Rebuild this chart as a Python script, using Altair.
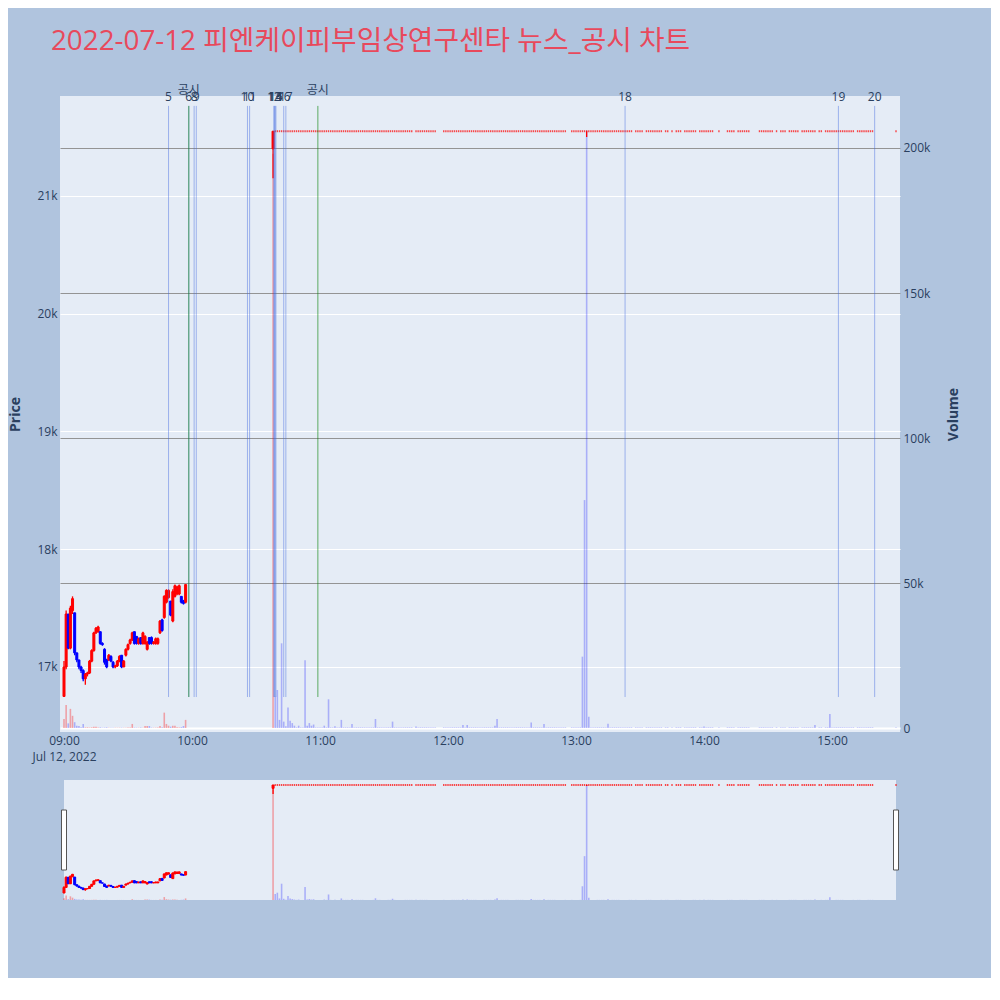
import altair as alt
import pandas as pd

DAY = "2022-07-12"
TITLE = "2022-07-12 피엔케이피부임상연구센타 뉴스_공시 차트"

# ---- first hour: 1-minute candles from 09:00 ----
early_open = [16750,17000,17450,17160,17480,17460,17120,17060,17000,16970,
              16900,16940,16950,17050,17140,17290,17300,17300,17200,17150,
              17060,17060,17090,17040,17000,17010,17050,17100,17000,17100,
              17150,17200,17230,17300,17260,17200,17250,17200,17200,17150,
              17250,17250,17200,17200,17200,17290,17400,17420,17550,17590,
              17560,17390,17600,17620,17620,17600,17560,17550]
early_high = [17050,17480,17450,17520,17600,17460,17120,17060,17010,16980,
              16950,16960,17060,17150,17300,17340,17350,17300,17210,17160,
              17070,17110,17100,17050,17020,17060,17100,17100,17060,17160,
              17200,17240,17300,17300,17260,17250,17250,17300,17270,17220,
              17250,17260,17220,17250,17250,17400,17410,17610,17660,17660,
              17560,17660,17700,17690,17700,17600,17570,17700]
early_low = [16750,16980,17150,17150,17450,17100,17040,16980,16950,16880,
             16850,16920,16940,17040,17130,17280,17290,17190,17180,17020,
             16990,17050,17040,16990,16990,17000,17040,16990,17000,17090,
             17140,17190,17220,17190,17190,17190,17190,17190,17190,17140,
             17190,17190,17190,17190,17190,17280,17300,17410,17540,17580,
             17430,17380,17590,17610,17610,17540,17530,17540]
early_close = [17000,17450,17160,17500,17580,17120,17060,17000,16970,16900,
               16940,16950,17050,17140,17290,17330,17340,17200,17190,17040,
               17000,17100,17050,17000,17010,17050,17090,17000,17050,17150,
               17190,17230,17290,17200,17200,17240,17200,17290,17260,17210,
               17200,17200,17210,17240,17240,17390,17310,17600,17650,17650,
               17440,17640,17690,17680,17690,17550,17540,17700]
early_vol = [3100,7900,1600,6600,4200,2000,800,700,300,1400,
             200,230,150,230,400,460,150,230,100,150,
             230,100,80,120,60,80,100,120,80,100,
             150,200,1400,150,120,100,150,100,700,700,
             700,150,100,120,200,700,300,5300,1400,800,
             460,800,800,300,200,300,700,2800]

# ---- 10:38 jump to the upper limit ----
spike_time = "10:38"
spike_ohlc = (21400, 21550, 21150, 21550)
spike_vol = 198000

# ---- upper-limit trading (price stuck at 21,550) ----
limit_price = 21550
limit_segments = [("10:39","11:43"),("11:45","11:54"),("11:58","12:55"),("12:58","12:59"),
                  ("13:00","13:26"),("13:28","13:31"),("13:33","13:37"),("13:38","13:40"),
                  ("13:42","13:43"),("13:45","13:45"),("13:47","13:49"),("13:51","13:56"),
                  ("13:58","13:59"),("14:00","14:04"),("14:07","14:07"),("14:11","14:14"),
                  ("14:16","14:17"),("14:18","14:21"),("14:26","14:32"),("14:34","14:34"),
                  ("14:36","14:38"),("14:40","14:44"),("14:46","14:48"),("14:49","14:52"),
                  ("14:54","14:55"),("14:57","15:10"),("15:12","15:19"),("15:30","15:30")]
limit_low_special = {"13:05": 21500}
limit_volumes = {"10:39":10800,"10:40":13100,"10:41":2800,"10:42":29200,"10:43":2200,
                 "10:44":600,"10:45":7100,"10:46":2500,"10:47":1700,"10:48":800,
                 "10:50":800,"10:53":23400,"10:54":800,"10:55":1700,"10:56":800,
                 "10:57":1200,"11:02":800,"11:04":9900,"11:07":600,"11:10":2800,
                 "11:15":1400,"11:26":3100,"11:34":2200,"11:45":500,"12:07":1000,
                 "12:09":1000,"12:22":800,"12:23":3100,"12:39":1900,"12:45":1400,
                 "13:03":24600,"13:04":78600,"13:05":206000,"13:06":3900,"13:15":1500,
                 "14:00":500,"14:52":1000,"14:59":4800}
limit_default_vol = 200

# ---- news / disclosure markers ----
news_labels = ["5","6","8","9","10","11","12","13","14","15","16","17","18","19","20"]
news_times = ["09:49:00","09:58:30","10:01:00","10:02:00","10:26:00","10:27:00",
              "10:38:20","10:38:40","10:39:00","10:39:20","10:43:00","10:44:00",
              "13:23:00","15:03:00","15:20:00"]
disc_labels = ["공시","공시"]
disc_times = ["09:58:30","10:59:00"]

RED, BLUE = "#FF0000", "#0000FF"
VRED, VBLUE = "rgba(255,0,0,0.32)", "rgba(0,0,255,0.26)"


def ts(hm):
    if len(hm) == 5:
        hm += ":00"
    return f"{DAY}T{hm}"


rows = []
t0 = pd.Timestamp(f"{DAY} 09:00")
for i in range(len(early_open)):
    t = (t0 + pd.Timedelta(minutes=i)).strftime("%Y-%m-%dT%H:%M:%S")
    o, h, l, c = early_open[i], early_high[i], early_low[i], early_close[i]
    up = c >= o
    rows.append(dict(t=t, o=o, h=h, l=l, c=c, v=early_vol[i],
                     col=RED if up else BLUE, vcol=VRED if up else VBLUE))
o, h, l, c = spike_ohlc
rows.append(dict(t=ts(spike_time), o=o, h=h, l=l, c=c, v=spike_vol, col=RED, vcol=VRED))
for a, b in limit_segments:
    for t in pd.date_range(f"{DAY} {a}", f"{DAY} {b}", freq="1min"):
        hm = t.strftime("%H:%M")
        rows.append(dict(t=t.strftime("%Y-%m-%dT%H:%M:%S"), o=limit_price, h=limit_price,
                         l=limit_low_special.get(hm, limit_price), c=limit_price,
                         v=limit_volumes.get(hm, limit_default_vol), col=RED, vcol=VBLUE))
df = pd.DataFrame(rows)
bodies = df[df.o != df.c]
dojis = df[df.o == df.c]
wicks = df[df.h != df.l]

news = pd.DataFrame({"t": [ts(x) for x in news_times], "label": news_labels})
disc = pd.DataFrame({"t": [ts(x) for x in disc_times], "label": disc_labels})


def dt(h, m, s=0, ms=0):
    return alt.DateTime(year=2022, month=7, date=12, hours=h, minutes=m, seconds=s, milliseconds=ms)


x_scale = alt.Scale(domain=[dt(8, 58, 7, 500), dt(15, 31, 52, 500)], padding=0, nice=False)
xaxis = alt.Axis(values=[dt(h, 0) for h in range(9, 16)],
                 labelExpr="hours(datum.value) == 9 ? ['09:00', 'Jul 12, 2022'] : timeFormat(datum.value, '%H:%M')",
                 grid=False, domain=False, ticks=False, labelPadding=3, labelLineHeight=16,
                 labelColor="#2a3f5f", labelFontSize=12, labelFlush=False, labelOverlap=False)
X = alt.X("t:T", scale=x_scale, axis=xaxis, title=None)
Xs = alt.X("t:T", scale=x_scale, axis=None)

price_scale = alt.Scale(domain=[16448, 21849], nice=False, zero=False, padding=0)
vol_scale = alt.Scale(domain=[-1379, 217931], nice=False, zero=False, padding=0)
price_axis = alt.Axis(orient="left", title="Price", values=[17000, 18000, 19000, 20000, 21000],
                      labelExpr="datum.value / 1000 + 'k'", grid=True, gridColor="white", gridWidth=1,
                      domain=False, ticks=False, labelPadding=3, titlePadding=14, labelFontSize=12,
                      titleFontWeight="bold", titleFontSize=14, titleColor="#2a3f5f", labelColor="#2a3f5f")
vol_axis = alt.Axis(orient="right", title="Volume", values=[0, 50000, 100000, 150000, 200000],
                    labelExpr="datum.value == 0 ? '0' : datum.value / 1000 + 'k'", grid=True,
                    gridColor={"condition": {"test": "datum.value == 0", "value": "white"}, "value": "#949494"},
                    gridWidth={"condition": {"test": "datum.value == 0", "value": 2}, "value": 1.2},
                    domain=False, ticks=False, labelPadding=3, titlePadding=31, titleAngle=270,
                    labelFontSize=12,
                    titleFontWeight="bold", titleFontSize=14, titleColor="#2a3f5f", labelColor="#2a3f5f")

vol_layer = alt.Chart(df).mark_bar(width=1.6).encode(
    x=X, y=alt.Y("v:Q", scale=vol_scale, axis=vol_axis),
    color=alt.Color("vcol:N", scale=None))
wick_layer = alt.Chart(wicks).mark_rule(strokeWidth=1.3).encode(
    x=X, y=alt.Y("l:Q", scale=price_scale, axis=price_axis), y2="h:Q",
    color=alt.Color("col:N", scale=None))
body_layer = alt.Chart(bodies).mark_bar(width=2.0, strokeWidth=1).encode(
    x=X, y=alt.Y("o:Q", scale=price_scale, axis=None), y2="c:Q",
    color=alt.Color("col:N", scale=None), stroke=alt.Stroke("col:N", scale=None))
doji_layer = alt.Chart(dojis).mark_tick(orient="horizontal", thickness=2, size=1.4).encode(
    x=X, y=alt.Y("c:Q", scale=price_scale, axis=None),
    color=alt.Color("col:N", scale=None))
news_rules = alt.Chart(news).mark_rule(strokeWidth=1, color="#4169E1", opacity=0.45).encode(
    x=X, y=alt.Y(datum=16745, scale=price_scale, axis=None), y2=alt.Y2(datum=21765))
disc_rules = alt.Chart(disc).mark_rule(strokeWidth=1, color="#008000", opacity=0.6).encode(
    x=X, y=alt.Y(datum=16745, scale=price_scale, axis=None), y2=alt.Y2(datum=21765))
news_text = alt.Chart(news).mark_text(fontSize=12, color="#2a3f5f", baseline="middle").encode(
    x=X, y=alt.value(1), text="label:N")
disc_text = alt.Chart(disc).mark_text(fontSize=12, color="#2a3f5f", baseline="middle").encode(
    x=X, y=alt.value(-6), text="label:N")

main = alt.layer(vol_layer, wick_layer, body_layer, doji_layer, news_rules, disc_rules,
                 news_text, disc_text).resolve_scale(y="independent").properties(
    width=840, height=636, view=alt.ViewBackground(fill="#E5ECF6", strokeWidth=0))

# ---- range slider ----
sp_scale = alt.Scale(domain=[16440, 21772], nice=False, zero=False, padding=0)
sv_scale = alt.Scale(domain=[0, 215000], nice=False, zero=False, padding=0)
one = pd.DataFrame({"a": [0]})
s_bg = alt.Chart(one).mark_rect(color="#E5ECF6").encode(
    x=alt.X(datum=dt(9, 0), type="temporal", scale=x_scale, axis=None),
    x2=alt.X2(datum=dt(15, 30)), y=alt.value(0), y2=alt.value(120))
s_vol = alt.Chart(df).mark_bar(width=1.6).encode(
    x=Xs, y=alt.Y("v:Q", scale=sv_scale, axis=None), color=alt.Color("vcol:N", scale=None))
s_wick = alt.Chart(wicks).mark_rule(strokeWidth=1.3).encode(
    x=Xs, y=alt.Y("l:Q", scale=sp_scale, axis=None), y2="h:Q", color=alt.Color("col:N", scale=None))
s_body = alt.Chart(bodies).mark_bar(width=2.0, strokeWidth=1).encode(
    x=Xs, y=alt.Y("o:Q", scale=sp_scale, axis=None), y2="c:Q",
    color=alt.Color("col:N", scale=None), stroke=alt.Stroke("col:N", scale=None))
s_doji = alt.Chart(dojis).mark_tick(orient="horizontal", thickness=2, size=1.4).encode(
    x=Xs, y=alt.Y("c:Q", scale=sp_scale, axis=None), color=alt.Color("col:N", scale=None))
handles = pd.DataFrame({"t": [ts("09:00"), ts("15:30")]})
s_handle = alt.Chart(handles).mark_rect(fill="white", stroke="#555555", strokeWidth=1,
                                        xOffset=-2.5, x2Offset=2.5).encode(
    x=Xs, x2="t:T", y=alt.value(30), y2=alt.value(90))

slider = alt.layer(s_bg, s_vol, s_wick, s_body, s_doji, s_handle).resolve_scale(
    y="independent").properties(width=840, height=120,
                                view=alt.ViewBackground(fill="transparent", strokeWidth=0))

chart = alt.vconcat(main, slider, spacing=18).resolve_scale(x="independent", y="independent").properties(
    title=alt.TitleParams(text=TITLE, anchor="start", fontSize=27.8, color="#E8495C",
                          fontWeight="normal", dx=42, offset=28),
    background="#B0C4DE",
    padding={"left": 0, "top": 20, "right": 30, "bottom": 78},
).configure(font="Open Sans, Noto Sans CJK KR, sans-serif").configure_view(strokeWidth=0)

chart.save("out.html", embed_options={"renderer": "svg", "actions": False})
